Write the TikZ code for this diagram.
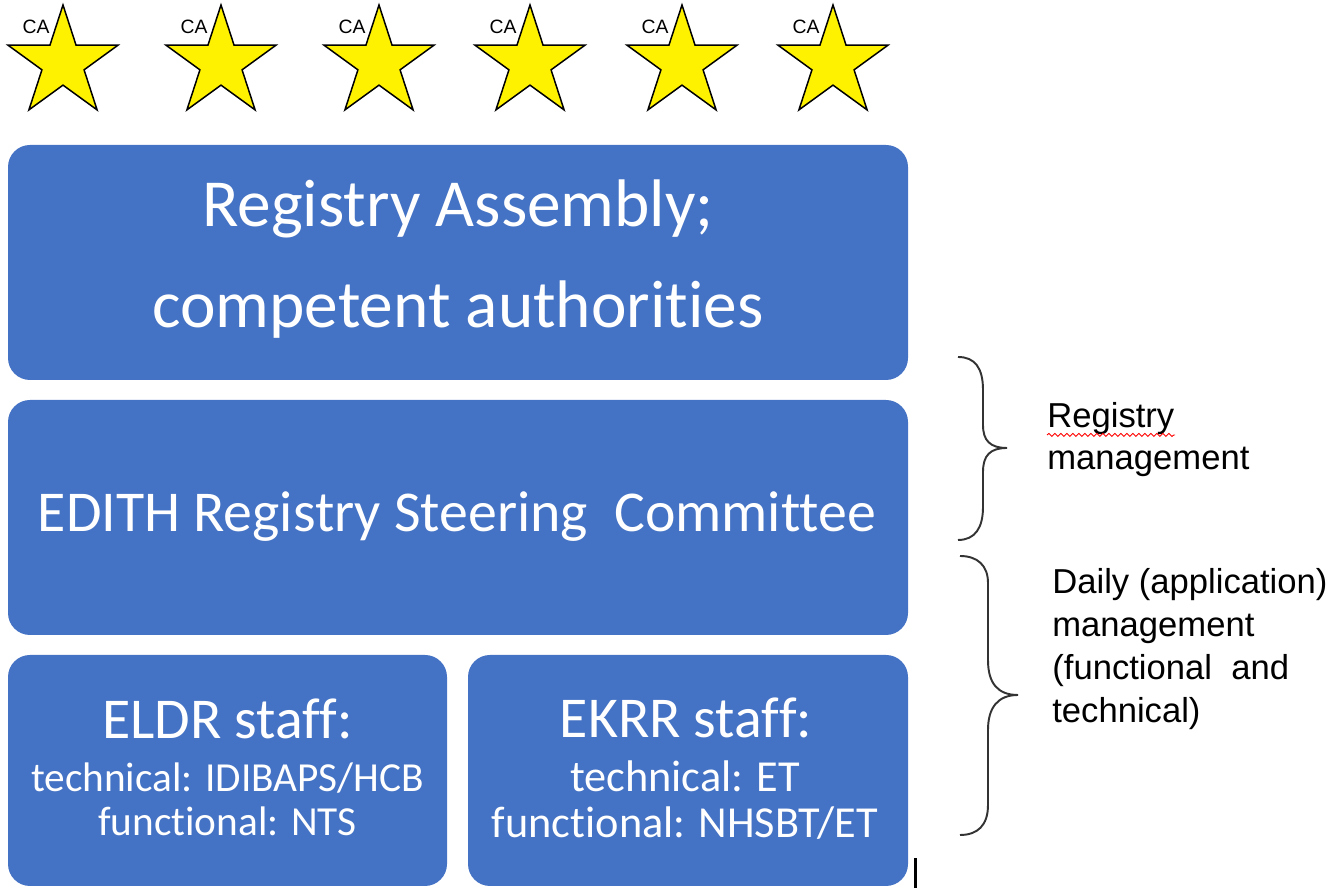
\documentclass[tikz,border=0pt]{standalone}
\usepackage{xcolor}
\usepackage{fontspec}
\usepackage{tikz}
\usetikzlibrary{shapes.geometric}
\usetikzlibrary{decorations.pathmorphing}
\newfontfamily\boxfont[Ligatures=NoCommon]{Carlito}
\newfontfamily\notefont{Liberation Sans}
\definecolor{boxblue}{HTML}{4472C4}
\definecolor{bracegray}{HTML}{333333}
\tikzstyle{bluebox}=[fill=boxblue, rounded corners=0.44cm, inner sep=0pt]
\tikzstyle{boxtext}=[text=white, inner sep=0pt, align=center, anchor=base]
\tikzstyle{castar}=[star, star points=5, star point ratio=2.618, minimum size=2.32cm, inner sep=0pt, draw=black, line width=0.85pt, fill=yellow]
\tikzstyle{calabel}=[font=\notefont\fontsize{11}{11}\selectfont, inner sep=0pt]
\tikzstyle{notetext}=[font=\notefont\fontsize{19.7}{24.2}\selectfont, inner sep=0pt, align=left, anchor=base west]
\tikzstyle{curly}=[draw=bracegray, line width=1.1pt]

\begin{document}
\begin{tikzpicture}
                \useasboundingbox (0,0) rectangle (26.66,17.76);

                % stars of the competent authorities
                \foreach \i/\x in {1/1.26, 2/4.42, 3/7.58, 4/10.6, 5/13.64, 6/16.66}{
                    \node[castar] (star\i) at (\x,16.5) {};
                    \node[calabel] (ca\i) at ({\x-0.54},17.22) {CA};
                }

                % boxes
                \node[bluebox, minimum width=18cm, minimum height=4.7cm] (assembly) at (9.16,12.51) {};
                \node[bluebox, minimum width=18cm, minimum height=4.7cm] (steering) at (9.16,7.41) {};
                \node[bluebox, minimum width=8.78cm, minimum height=4.62cm] (eldr) at (4.55,2.35) {};
                \node[bluebox, minimum width=8.8cm, minimum height=4.62cm] (ekrr) at (13.76,2.35) {};

                % (base anchor = last line)
                \node[boxtext, font=\boxfont\fontsize{38.3}{57.5}\selectfont] (assemblytext) at (9.16,11.20) {Registry Assembly;\\competent authorities};
                \node[boxtext, font=\boxfont\fontsize{32.9}{33}\selectfont] (steeringtext) at (9.14,7.12) {EDITH Registry Steering\ \ Committee};
                \node[boxtext, font=\boxfont\fontsize{32.9}{33}\selectfont] (eldrtitle) at (4.55,2.98) {ELDR staff:};
                \node[boxtext, font=\boxfont\fontsize{23.5}{25.3}\selectfont] (eldrtext) at (4.55,1.05) {technical: IDIBAPS/HCB\\functional: NTS};
                \node[boxtext, font=\boxfont\fontsize{32.9}{33}\selectfont] (ekrrtitle) at (13.72,3.0) {EKRR staff:};
                \node[boxtext, font=\boxfont\fontsize{25.2}{26.2}\selectfont] (ekrrtext) at (13.70,1.00) {technical: ET\\functional: NHSBT/ET};

                % braces
                \draw[curly] (19.16,10.62) .. controls (19.5,10.62) and (19.66,10.4) .. (19.66,9.96) -- (19.66,9.26) .. controls (19.66,8.95) and (19.8,8.80) .. (20.14,8.80) .. controls (19.8,8.80) and (19.66,8.65) .. (19.66,8.32) -- (19.66,7.62) .. controls (19.66,7.2) and (19.5,6.96) .. (19.16,6.96);
                \draw[curly] (19.2,6.64) .. controls (19.55,6.64) and (19.76,6.45) .. (19.76,6.10) -- (19.76,4.56) .. controls (19.76,4.1) and (19.95,3.86) .. (20.36,3.86) .. controls (19.95,3.86) and (19.76,3.6) .. (19.76,3.16) -- (19.76,1.66) .. controls (19.76,1.25) and (19.55,1.06) .. (19.2,1.06);

                \node[notetext] (regman) at (20.94,8.36) {Registry\\management};
                \node[notetext, font=\notefont\fontsize{19.7}{24.6}\selectfont] (dailyman) at (21.04,3.30) {Daily (application)\\management\\(functional\ \ and\\technical)};
                \draw[red, line width=0.5pt, decorate, decoration={snake, amplitude=0.03cm, segment length=0.12cm}] (20.94,9.06) -- (23.5,9.06);

                \draw[line width=1.7pt] (18.3,0) -- (18.3,0.6);
            \end{tikzpicture}
\end{document}
